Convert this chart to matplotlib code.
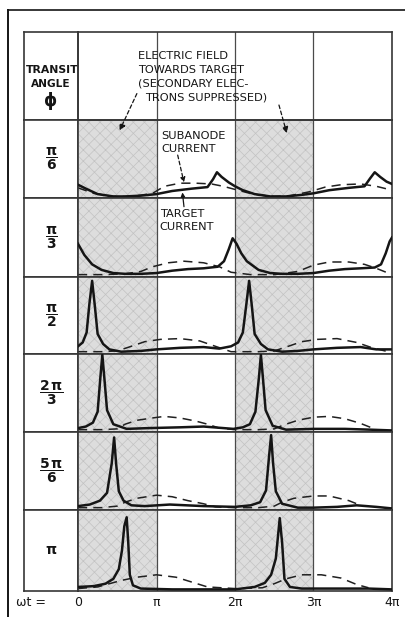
import matplotlib
matplotlib.use("Agg")
import numpy as np
import matplotlib.pyplot as plt
from matplotlib.lines import Line2D

plt.rcParams['mathtext.fontset'] = 'dejavusans'
plt.rcParams['mathtext.default'] = 'bf'
plt.rcParams['hatch.linewidth'] = 0.5

# transit angle labels, one per row
angles = [r'$\dfrac{\pi}{6}$', r'$\dfrac{\pi}{3}$', r'$\dfrac{\pi}{2}$',
          r'$\dfrac{2\,\pi}{3}$', r'$\dfrac{5\,\pi}{6}$', r'$\pi$']

# wt in units of pi, current in fraction of row height
# target current (solid)
t_tgt_1 = [0, 0.1, 0.25, 0.45, 0.6, 0.8, 1.0, 1.2, 1.45, 1.65, 1.72, 1.77, 1.83, 1.92, 2.0,
           2.1, 2.25, 2.45, 2.65, 2.85, 3.0, 3.2, 3.45, 3.65, 3.72, 3.78, 3.85, 3.93, 4.0]
i_tgt_1 = [0.17, 0.12, 0.05, 0.02, 0.02, 0.03, 0.05, 0.09, 0.12, 0.14, 0.24, 0.33, 0.27, 0.2, 0.15,
           0.1, 0.05, 0.02, 0.02, 0.04, 0.06, 0.1, 0.13, 0.15, 0.25, 0.33, 0.27, 0.21, 0.18]
t_tgt_2 = [0, 0.08, 0.18, 0.3, 0.45, 0.6, 0.8, 1.0, 1.2, 1.4, 1.6, 1.78, 1.86, 1.92, 1.97, 2.02,
           2.08, 2.15, 2.3, 2.45, 2.6, 2.8, 3.0, 3.2, 3.4, 3.6, 3.78, 3.86, 3.92, 3.97, 4.0]
i_tgt_2 = [0.42, 0.28, 0.16, 0.09, 0.05, 0.04, 0.04, 0.05, 0.08, 0.1, 0.11, 0.13, 0.2, 0.35, 0.49, 0.42,
           0.3, 0.2, 0.09, 0.05, 0.04, 0.04, 0.05, 0.08, 0.1, 0.11, 0.12, 0.16, 0.3, 0.45, 0.5]
t_tgt_3 = [0, 0.06, 0.11, 0.145, 0.18, 0.215, 0.25, 0.32, 0.4, 0.55, 0.8, 1.0, 1.3, 1.6, 1.8, 1.95,
           2.04, 2.1, 2.145, 2.18, 2.215, 2.25, 2.33, 2.42, 2.6, 2.8, 3.0, 3.3, 3.6, 3.8, 4.0]
i_tgt_3 = [0.1, 0.15, 0.28, 0.65, 0.95, 0.62, 0.26, 0.13, 0.06, 0.03, 0.04, 0.06, 0.08, 0.09, 0.07, 0.1,
           0.15, 0.28, 0.65, 0.95, 0.62, 0.26, 0.13, 0.06, 0.03, 0.04, 0.06, 0.08, 0.09, 0.06, 0.06]
t_tgt_4 = [0, 0.1, 0.19, 0.25, 0.285, 0.31, 0.335, 0.37, 0.45, 0.62, 0.9, 1.3, 1.6, 1.98,
           2.1, 2.19, 2.26, 2.305, 2.33, 2.355, 2.39, 2.48, 2.65, 3.0, 3.4, 3.72, 4.0]
i_tgt_4 = [0.05, 0.07, 0.12, 0.26, 0.7, 0.99, 0.7, 0.28, 0.1, 0.04, 0.05, 0.06, 0.07, 0.04,
           0.06, 0.1, 0.26, 0.7, 0.99, 0.7, 0.28, 0.08, 0.03, 0.04, 0.04, 0.03, 0.02]
t_tgt_5 = [0, 0.15, 0.28, 0.37, 0.43, 0.46, 0.485, 0.52, 0.58, 0.68, 0.85, 1.17, 1.6, 2.0,
           2.2, 2.32, 2.395, 2.435, 2.46, 2.485, 2.52, 2.6, 2.8, 3.0, 3.3, 3.55, 3.8, 4.0]
i_tgt_5 = [0.05, 0.07, 0.12, 0.22, 0.6, 0.93, 0.6, 0.24, 0.12, 0.06, 0.05, 0.07, 0.05, 0.04,
           0.06, 0.1, 0.25, 0.7, 0.96, 0.6, 0.24, 0.08, 0.03, 0.03, 0.04, 0.06, 0.04, 0.02]
t_tgt_6 = [0, 0.2, 0.35, 0.45, 0.52, 0.56, 0.59, 0.62, 0.64, 0.66, 0.7, 0.8, 1.2, 1.6,
           2.0, 2.25, 2.38, 2.46, 2.52, 2.55, 2.57, 2.6, 2.63, 2.7, 2.85, 3.3, 3.7, 4.0]
i_tgt_6 = [0.05, 0.06, 0.09, 0.15, 0.27, 0.5, 0.8, 0.91, 0.6, 0.2, 0.07, 0.03, 0.02, 0.02,
           0.02, 0.05, 0.1, 0.2, 0.4, 0.7, 0.9, 0.6, 0.15, 0.05, 0.03, 0.03, 0.03, 0.02]

# subanode current (dashed)
t_sub_1 = [0, 0.2, 0.45, 0.7, 0.95, 1.1, 1.3, 1.5, 1.7, 1.85, 2.0,
           2.15, 2.3, 2.5, 2.7, 2.95, 3.15, 3.35, 3.6, 3.8, 4.0]
i_sub_1 = [0.13, 0.06, 0.02, 0.02, 0.06, 0.15, 0.19, 0.19, 0.18, 0.15, 0.11,
           0.07, 0.04, 0.02, 0.03, 0.08, 0.14, 0.17, 0.18, 0.15, 0.1]
t_sub_2 = [0, 0.3, 0.6, 0.8, 0.95, 1.15, 1.35, 1.6, 1.8, 1.95,
           2.2, 2.5, 2.8, 3.0, 3.2, 3.45, 3.65, 3.8, 3.95]
i_sub_2 = [0.03, 0.03, 0.04, 0.07, 0.13, 0.18, 0.2, 0.18, 0.13, 0.06,
           0.03, 0.03, 0.07, 0.15, 0.19, 0.19, 0.16, 0.11, 0.05]
t_sub_3 = [0, 0.3, 0.5, 0.65, 0.85, 1.05, 1.3, 1.55, 1.75, 1.95,
           2.3, 2.5, 2.65, 2.85, 3.05, 3.3, 3.55, 3.75, 3.95]
i_sub_3 = [0.03, 0.03, 0.04, 0.09, 0.16, 0.19, 0.2, 0.17, 0.1, 0.03,
           0.03, 0.04, 0.09, 0.16, 0.19, 0.2, 0.15, 0.08, 0.03]
t_sub_4 = [0, 0.3, 0.5, 0.6, 0.75, 0.95, 1.1, 1.3, 1.5, 1.65, 1.8,
           2.0, 2.3, 2.5, 2.62, 2.8, 3.0, 3.2, 3.4, 3.6, 3.75]
i_sub_4 = [0.03, 0.03, 0.04, 0.1, 0.15, 0.18, 0.2, 0.18, 0.14, 0.1, 0.05,
           0.03, 0.03, 0.04, 0.09, 0.15, 0.19, 0.2, 0.17, 0.11, 0.05]
t_sub_5 = [0, 0.3, 0.5, 0.6, 0.75, 1.0, 1.2, 1.4, 1.6, 1.75,
           2.0, 2.3, 2.5, 2.6, 2.75, 3.0, 3.2, 3.45, 3.6]
i_sub_5 = [0.03, 0.03, 0.05, 0.1, 0.15, 0.19, 0.17, 0.12, 0.08, 0.04,
           0.03, 0.03, 0.05, 0.1, 0.15, 0.18, 0.18, 0.12, 0.06]
t_sub_6 = [0, 0.25, 0.4, 0.55, 0.75, 1.0, 1.25, 1.45, 1.65,
           2.0, 2.35, 2.5, 2.65, 2.85, 3.1, 3.35, 3.55, 3.7]
i_sub_6 = [0.03, 0.05, 0.09, 0.13, 0.17, 0.2, 0.17, 0.11, 0.05,
           0.03, 0.04, 0.09, 0.15, 0.2, 0.2, 0.16, 0.08, 0.04]

target = [(t_tgt_1, i_tgt_1), (t_tgt_2, i_tgt_2), (t_tgt_3, i_tgt_3),
          (t_tgt_4, i_tgt_4), (t_tgt_5, i_tgt_5), (t_tgt_6, i_tgt_6)]
subanode = [(t_sub_1, i_sub_1), (t_sub_2, i_sub_2), (t_sub_3, i_sub_3),
            (t_sub_4, i_sub_4), (t_sub_5, i_sub_5), (t_sub_6, i_sub_6)]

# field towards target during these half cycles (units of pi)
field_spans = [(0, 1), (2, 3)]
xtick_labels = ['0', 'π', '2π', '3π', '4π']

W, H = 405, 617
fig = plt.figure(figsize=(W / 100, H / 100), dpi=100)
fig.patch.set_facecolor('white')
gs = fig.add_gridspec(7, 2, left=24 / W, right=392 / W, top=1 - 32 / H, bottom=1 - 591 / H,
                      width_ratios=[54, 314], height_ratios=[88, 78, 79, 77, 78, 78, 81],
                      hspace=0, wspace=0)

gridc = '#363636'
inkc = '#151515'


def frame(ax):
    ax.set_xticks([])
    ax.set_yticks([])
    for s in ax.spines.values():
        s.set_color(gridc)
        s.set_linewidth(1.2)


plot_axes = []
for r in range(7):
    lab = fig.add_subplot(gs[r, 0])
    frame(lab)
    ax = fig.add_subplot(gs[r, 1])
    frame(ax)
    ax.set_xlim(0, 4)
    ax.set_ylim(0, 1)
    for xv in (1, 2, 3):
        ax.axvline(xv, color='#4a4a4a', lw=0.9, zorder=1)
    if r == 0:
        lab.text(0.53, 0.57, 'TRANSIT', ha='center', va='center', fontsize=7.8,
                 fontweight='bold', color=inkc, clip_on=True)
        lab.text(0.5, 0.41, 'ANGLE', ha='center', va='center', fontsize=7.6,
                 fontweight='bold', color=inkc)
        lab.text(0.5, 0.22, 'ϕ', ha='center', va='center', fontsize=12,
                 fontweight='bold', color=inkc)
        header = ax
        continue
    lab.text(0.5, 0.5, angles[r - 1], ha='center', va='center', fontsize=10, color=inkc)
    for a, b in field_spans:
        ax.axvspan(a, b, facecolor='#dddddd', edgecolor='#c2c2c2', hatch='xxx', lw=0, zorder=0)
    ts, cs = subanode[r - 1]
    ax.plot(ts, cs, color='#202020', lw=1.1, dashes=(6, 4), zorder=2)
    tt, ct = target[r - 1]
    ax.plot(tt, ct, color=inkc, lw=1.8, zorder=3, solid_joinstyle='round')
    plot_axes.append(ax)

# header sits above the first row so its arrows reach into it
header.set_zorder(5)
header.patch.set_alpha(0)

fs = 8.2
for k, line in enumerate(['ELECTRIC FIELD', 'TOWARDS TARGET', '(SECONDARY ELEC-']):
    header.text(0.76, 0.727 - k * 0.155, line, ha='left', va='center', fontsize=fs, color=inkc)
header.text(0.85, 0.26, 'TRONS SUPPRESSED)', ha='left', va='center', fontsize=fs, color=inkc)
arrow_kw = dict(arrowstyle='-|>', color=inkc, lw=0.9, linestyle=(0, (3, 2)),
                mutation_scale=9, shrinkA=0, shrinkB=0)
header.annotate('', xy=(0.53, -0.12), xytext=(0.75, 0.3), arrowprops=arrow_kw,
                annotation_clip=False)
header.annotate('', xy=(2.66, -0.15), xytext=(2.56, 0.17), arrowprops=arrow_kw,
                annotation_clip=False)

ax1, ax2 = plot_axes[0], plot_axes[1]
ax1.text(1.06, 0.795, 'SUBANODE', ha='left', va='center', fontsize=fs, color=inkc)
ax1.text(1.06, 0.63, 'CURRENT', ha='left', va='center', fontsize=fs, color=inkc)
ax1.annotate('', xy=(1.35, 0.2), xytext=(1.27, 0.55),
             arrowprops=dict(arrowstyle='-|>', color=inkc, lw=0.9, linestyle=(0, (3, 2)),
                             mutation_scale=7, shrinkA=0, shrinkB=0))
ax2.text(1.04, 0.8, 'TARGET', ha='left', va='center', fontsize=fs, color=inkc)
ax2.text(1.04, 0.63, 'CURRENT', ha='left', va='center', fontsize=fs, color=inkc)
ax2.annotate('', xy=(1.33, 1.07), xytext=(1.35, 0.89),
             arrowprops=dict(arrowstyle='-|>', color=inkc, lw=0.9, mutation_scale=6,
                             shrinkA=0, shrinkB=0), annotation_clip=False)

# wt axis labels under the last row
last = plot_axes[-1]
for k, s in enumerate(xtick_labels):
    last.text(k, -0.14, s, ha='center', va='center', fontsize=9, color=inkc)
last.text(-0.6, -0.14, 'ωt =', ha='center', va='center', fontsize=9, color=inkc)

# outer border of the page
fig.add_artist(Line2D([8 / W, 8 / W], [0, 1 - 10 / H], transform=fig.transFigure,
                      color=inkc, lw=1.4))
fig.add_artist(Line2D([8 / W, 1], [1 - 10 / H, 1 - 10 / H], transform=fig.transFigure,
                      color=inkc, lw=1.2))

fig.savefig('out.png', dpi=100)
